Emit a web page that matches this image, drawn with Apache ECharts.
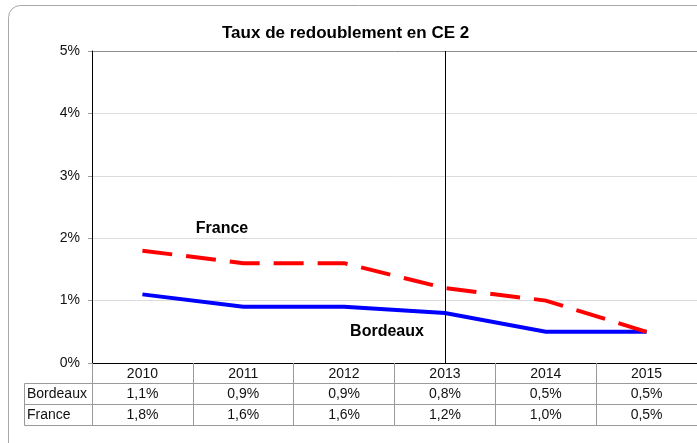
<!DOCTYPE html>
<html>
<head>
<meta charset="utf-8">
<script src="https://cdn.jsdelivr.net/npm/echarts@6/dist/echarts.min.js"></script>
<style>
  html, body { margin: 0; padding: 0; background: #fff; }
  #main { width: 697px; height: 443px; }
</style>
</head>
<body>
<div id="main"></div>
<script>
var years = ["2010", "2011", "2012", "2013", "2014", "2015"];
var bordeaux = [1.1, 0.9, 0.9, 0.8, 0.5, 0.5];
var france = [1.8, 1.6, 1.6, 1.2, 1.0, 0.5];
var markYear = "2013";

var myChart = echarts.init(document.getElementById("main"));

function pct(v) {
    return v.toFixed(1).replace(".", ",") + "%";
}

var font = "Liberation Sans";
var gridLine = "#9a9a9a";

// une ligne du tableau = un axe x décalé vers le bas
function tableAxis(offset, labels, tickLen) {
    return {
        type: "category",
        position: "bottom",
        offset: offset,
        data: labels,
        boundaryGap: true,
        axisLine: { show: true, lineStyle: { color: gridLine, width: 1 } },
        axisTick: { show: tickLen > 0, interval: 0, length: tickLen, lineStyle: { color: gridLine } },
        axisLabel: { show: true, interval: 0, margin: 4, color: "#111", fontFamily: font, fontSize: 14 },
        splitLine: { show: false },
    };
}

var option = {
    animation: false,
    title: {
        text: "Taux de redoublement en CE 2",
        left: 217,
        top: 20,
        textStyle: { fontFamily: font, fontSize: 17, fontWeight: "bold", color: "#000" },
    },
    grid: {
        left: 92,
        top: 51,
        width: 611,
        height: 312,
    },
    xAxis: [
        {
            type: "category",
            data: years,
            boundaryGap: true,
            axisLine: { show: true, lineStyle: { color: "#000", width: 1 } },
            axisTick: { show: true, interval: 0, length: 20, lineStyle: { color: gridLine } },
            axisLabel: { interval: 0, margin: 4, color: "#111", fontFamily: font, fontSize: 14 },
            splitLine: { show: false },
        },
        tableAxis(20, bordeaux.map(pct), 21),
        tableAxis(41, france.map(pct), 21),
        tableAxis(62, years.map(function () { return ""; }), 0),
    ],
    yAxis: {
        type: "value",
        min: 0,
        max: 5,
        interval: 1,
        axisLine: { show: true, lineStyle: { color: "#000", width: 1 } },
        axisTick: { show: true, length: 4, lineStyle: { color: gridLine } },
        axisLabel: {
            margin: 12,
            color: "#111",
            fontFamily: font,
            fontSize: 14,
            formatter: function (v) { return v + "%"; },
        },
        splitLine: {
            show: true,
            lineStyle: { color: ["#000", "#dcdcdc", "#dcdcdc", "#dcdcdc", "#dcdcdc", "#8c8c8c"], width: 1 },
        },
    },
    series: [
        {
            name: "Bordeaux",
            type: "line",
            data: bordeaux,
            symbol: "none",
            lineStyle: { color: "#0000ff", width: 4, cap: "butt", join: "miter" },
            z: 3,
            markLine: {
                silent: true,
                symbol: ["none", "none"],
                label: { show: false },
                lineStyle: { color: "#000", width: 1, type: "solid" },
                data: [{ xAxis: markYear }],
            },
        },
        {
            name: "France",
            type: "line",
            data: france,
            symbol: "none",
            lineStyle: { color: "#ff0000", width: 4, type: [30, 14], cap: "butt", join: "miter" },
            z: 4,
        },
    ],
    graphic: [
        {
            type: "rect",
            shape: { x: 8.5, y: 5.5, width: 710, height: 450, r: 12 },
            style: { fill: "none", stroke: "#a8a8a8", lineWidth: 1 },
            z: -10,
            silent: true,
        },
        {
            type: "rect",
            shape: { x: 24.5, y: 383.5, width: 68, height: 42 },
            style: { fill: "none", stroke: gridLine, lineWidth: 1 },
            silent: true,
        },
        {
            type: "line",
            shape: { x1: 24.5, y1: 404.5, x2: 92, y2: 404.5 },
            style: { stroke: gridLine, lineWidth: 1 },
            silent: true,
        },
        {
            type: "text",
            x: 27, y: 394,
            style: { text: "Bordeaux", font: "14px Liberation Sans", fill: "#111", verticalAlign: "middle" },
            silent: true,
        },
        {
            type: "text",
            x: 27, y: 415,
            style: { text: "France", font: "14px Liberation Sans", fill: "#111", verticalAlign: "middle" },
            silent: true,
        },
        {
            type: "text",
            x: 222, y: 229,
            style: { text: "France", font: "bold 16px Liberation Sans", fill: "#000", align: "center", verticalAlign: "middle" },
            silent: true,
        },
        {
            type: "text",
            x: 387, y: 332,
            style: { text: "Bordeaux", font: "bold 16px Liberation Sans", fill: "#000", align: "center", verticalAlign: "middle" },
            silent: true,
        },
    ],
};
myChart.setOption(option);
</script>
</body>
</html>
